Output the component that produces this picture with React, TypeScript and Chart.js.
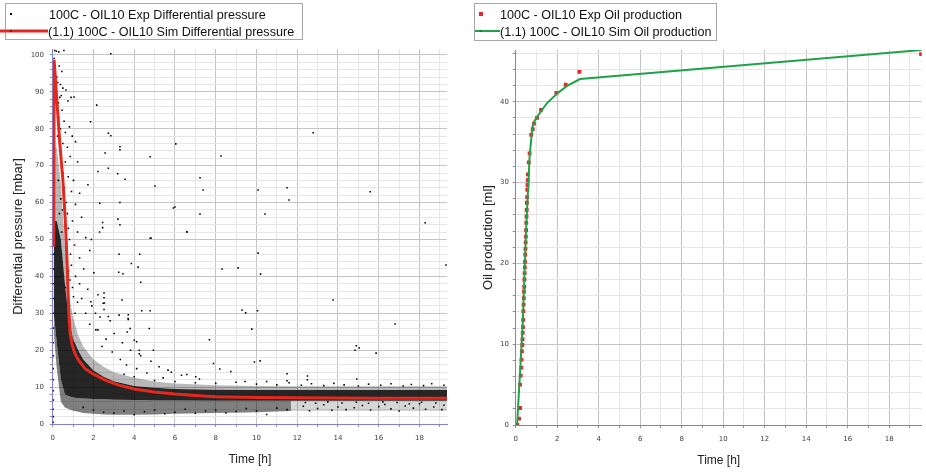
import React, { useEffect, useRef } from 'react';
import { Chart, registerables } from 'chart.js';

Chart.register(...registerables);

// ---------------- data ----------------
const EXP_DP_LABEL = '100C - OIL10 Exp Differential pressure';
const SIM_DP_LABEL = '(1.1) 100C - OIL10 Sim Differential pressure';
const EXP_OIL_LABEL = '100C - OIL10 Exp Oil production';
const SIM_OIL_LABEL = '(1.1) 100C - OIL10 Sim Oil production';

const X_TITLE = 'Time [h]';
const Y_TITLE_DP = 'Differential pressure [mbar]';
const Y_TITLE_OIL = 'Oil production [ml]';

const timeTickLabels = [0, 2, 4, 6, 8, 10, 12, 14, 16, 18];
const dpTickLabels = [0, 10, 20, 30, 40, 50, 60, 70, 80, 90, 100];
const oilTickLabels = [0, 10, 20, 30, 40];

// simulated differential pressure
const simDpTime = [0.05, 0.07, 0.2, 0.35, 0.5, 0.62, 0.72, 0.78, 0.85, 0.95, 1.1, 1.3, 1.6, 2.0, 2.6, 3.2, 4.0, 5.0, 6.0, 7.0, 8.0, 10.0, 12.0, 14.0, 16.0, 18.0, 19.35];
const simDpValue = [48, 98.6, 88, 76, 66, 55, 42, 31, 25, 21.5, 19, 17, 15, 13.5, 11.8, 10.6, 9.5, 8.7, 8.1, 7.7, 7.4, 7.2, 7.1, 7.05, 7.0, 7.0, 7.0];

// measured differential pressure (individual readable samples)
const expDpPoints: [number, number][] = [
  [0.02, 0.5], [0.03, 2], [0.02, 4], [0.03, 6.5], [0.02, 9], [0.03, 12], [0.02, 15], [0.03, 18.5], [0.02, 22], [0.03, 26],
  [0.02, 30], [0.03, 34], [0.02, 38], [0.03, 42], [0.04, 46], [0.05, 51], [0.04, 56], [0.06, 61], [0.05, 66], [0.04, 71],
  [0.06, 76], [0.05, 81], [0.04, 86], [0.06, 91], [0.05, 95], [0.07, 99], [0.1, 101.2],
  [0.18, 101], [0.3, 100.8], [0.55, 101.2], [0.12, 96], [0.2, 94], [0.32, 97], [0.38, 92], [0.16, 89], [0.42, 89], [0.28, 87],
  [0.5, 91], [0.65, 90.5], [0.9, 88.5], [1.05, 88.6], [0.75, 87.5], [0.46, 85], [0.3, 83], [0.56, 82], [0.38, 80], [0.62, 79],
  [0.82, 80.5], [0.96, 78], [0.5, 76], [0.72, 75], [1.12, 76.5], [0.42, 73], [0.62, 71], [0.86, 72.5], [1.22, 71], [0.52, 68],
  [0.76, 67], [1.02, 66], [0.57, 64], [0.92, 63], [1.32, 62.5], [0.66, 60], [1.12, 59.5], [0.72, 57], [0.97, 55], [1.42, 56],
  [0.77, 53], [1.22, 52], [0.82, 50], [1.07, 48.5], [1.62, 50.5], [0.87, 46], [1.32, 45], [1.82, 47], [0.92, 43], [1.52, 42],
  [1.12, 40], [2.02, 41], [1.32, 38], [1.72, 36.5], [0.97, 37], [2.22, 35], [1.42, 34], [1.92, 32], [2.52, 31], [1.22, 33],
  [1.62, 30], [2.32, 29], [2.82, 28], [1.82, 27], [2.12, 25.5], [3.02, 24.5], [2.62, 23], [3.42, 22], [2.42, 21], [3.82, 20],
  [2.92, 19.5], [4.32, 18.5], [3.32, 17.5], [4.82, 17], [3.62, 16], [5.22, 15.5], [4.12, 15], [5.82, 14], [4.62, 13.8],
  [6.32, 13.2], [7.02, 12.8], [5.42, 12.5],
  [0.25, 92.5], [0.35, 88.5], [0.45, 95.5], [0.24, 78], [0.34, 74], [0.44, 70], [0.28, 66], [0.4, 61], [0.33, 57], [0.48, 58],
  [0.58, 53.5], [0.44, 52], [0.66, 49], [0.7, 45.5], [0.78, 41.5], [0.85, 39], [0.62, 37], [0.74, 33], [1.02, 34.5], [1.1, 30],
  [2.85, 100.3], [2.16, 86.4], [1.86, 81.9], [2.73, 78.8], [2.85, 78.1], [3.3, 75.1], [3.3, 74.3], [2.57, 73.4], [4.78, 72.4],
  [6.04, 75.9], [2.73, 69.3], [3.19, 67.8], [3.55, 66.3], [5.02, 64.5], [5.92, 58.5], [3.3, 60], [3.2, 55.5], [3.3, 54],
  [2.45, 54.6], [2.45, 53.2], [6.58, 52.1], [4.78, 50.3], [2.3, 52], [1.9, 50], [2.22, 68.4], [1.73, 64.8], [2.31, 59.8],
  [3.26, 46], [4.27, 46], [3.86, 43.5], [3.24, 41.1], [3.45, 40.7], [4.32, 38.4], [2.52, 35.5], [2.52, 34.2], [2.54, 32.8],
  [2.73, 29.1], [3.7, 28.6], [3.8, 25.9], [4.0, 22.7], [2.1, 30], [4.19, 42.5], [3.4, 33.6], [3.26, 29.5], [2.22, 25.5],
  [1.87, 33.1], [2.48, 32.7], [3.71, 29.6], [3.71, 28.3], [4.37, 30.7], [4.78, 30.7], [3.66, 24.9], [4.74, 25.9],
  [4.12, 22.3], [4.25, 20], [4.25, 19], [4.94, 20], [7.69, 22.8], [7.89, 16.4], [8.2, 14.9], [8.74, 14.2], [6.58, 13.4],
  [7.2, 12.2], [5.66, 14.6], [9.44, 11.5], [11.5, 13.6], [11.5, 11.7], [12.5, 12], [12.5, 13], [14.92, 12.2],
  [7.23, 66.7], [7.38, 63.4], [8.26, 72.6], [6.0, 58.8], [6.59, 52], [4.83, 50.4], [7.23, 56.9], [8.31, 42], [9.1, 42.3],
  [10.08, 63.4], [10.42, 56.9], [10.08, 46.3], [10.2, 40.6], [11.5, 64], [11.6, 60.7], [12.78, 78.9], [9.29, 30.9],
  [9.47, 30.1], [10.05, 30.7], [9.77, 25.7], [10.18, 17.1], [9.9, 16.8], [13.76, 33.6], [14.84, 20], [14.9, 21.2],
  [15.04, 20.6], [15.87, 19.2], [16.8, 27.1], [15.58, 62.9], [18.28, 54.5], [19.3, 43.1],
  [1.5, 4.5], [2.0, 3.8], [2.5, 3.2], [3.0, 3.0], [3.5, 3.5], [4.0, 2.5], [4.5, 3.3], [5.0, 3.8], [5.5, 2.8], [6.0, 3.2],
  [6.5, 4.0], [7.0, 2.9], [7.5, 3.5], [8.0, 3.8], [8.5, 3.0], [9.0, 3.4], [9.5, 4.2], [10.0, 3.6], [10.5, 2.6], [11.0, 4.3],
  [11.5, 3.9], [12.3, 4.8], [12.6, 3.6], [13.0, 4.2], [13.3, 5.2], [13.7, 3.7], [14.0, 4.6], [14.4, 3.9], [14.8, 4.4],
  [15.2, 5.0], [15.6, 3.8], [16.0, 4.7], [16.3, 5.3], [16.6, 4.1], [17.0, 3.5], [17.3, 4.9], [17.7, 4.3], [18.0, 5.5],
  [18.3, 4.0], [18.7, 4.6], [19.1, 3.9], [19.2, 5.1],
  [12.4, 5.8], [12.9, 5.6], [13.5, 6.0], [14.2, 5.7], [14.9, 5.9], [15.5, 5.6], [16.2, 6.0], [16.9, 5.8], [17.5, 5.5],
  [18.1, 5.9], [18.8, 5.7],
  [3.5, 13.5], [4.0, 12.8], [5.0, 11.8], [6.0, 11.5], [7.0, 11.2], [8.0, 11.0], [9.0, 11.3], [10.0, 10.8], [10.5, 11.5],
  [11.0, 10.6], [11.6, 11.2], [12.2, 10.5], [12.7, 10.9], [13.3, 10.4], [13.8, 11.0], [14.3, 10.6], [15.0, 10.3],
  [15.5, 10.8], [16.1, 10.5], [16.6, 10.9], [17.2, 10.3], [17.6, 10.7], [18.2, 10.4], [18.6, 10.9], [19.2, 10.5],
];

// envelopes of the dense cloud of measured pressure samples
const cloudTime = [0.05, 0.2, 0.4, 0.6, 0.8, 1.0, 1.25, 1.5, 2.0, 2.5, 3.0, 4.0, 5.0, 6.0, 8.0, 10.0, 11.7, 12.0, 14.0, 16.0, 18.0, 19.35];
const cloudUpperTop = [75, 75, 65, 48, 35, 29, 24, 21, 17.5, 15.5, 14, 12.5, 11.5, 11, 10.5, 10.3, 10.2, 10.2, 10.2, 10.2, 10.2, 10.2];
const cloudCoreTop = [55, 55, 50, 38, 28, 23, 20, 17.5, 14.5, 12.8, 11.6, 10.3, 9.8, 9.5, 9.3, 9.2, 9.2, 9.2, 9.2, 9.2, 9.2, 9.2];
const cloudCoreBottom = [30, 22, 12, 8, 7.5, 7.2, 7, 6.9, 6.8, 6.7, 6.6, 6.5, 6.4, 6.4, 6.3, 6.3, 6.3, 6.3, 6.3, 6.3, 6.3, 6.3];
const lowerTime = [0.05, 0.2, 0.4, 0.6, 0.8, 1.0, 1.25, 1.5, 2.0, 2.5, 3.0, 4.0, 5.0, 6.0, 8.0, 10.0, 11.7];
const lowerTop = [30, 22, 12, 8, 7.5, 7.2, 7, 6.9, 6.8, 6.7, 6.6, 6.5, 6.4, 6.4, 6.3, 6.3, 6.3];
const lowerBottom = [25, 15, 6, 4.5, 4, 3.6, 3.3, 3.0, 2.8, 2.6, 2.5, 2.5, 2.6, 2.8, 3, 3.2, 3.5];
const streakTime = [11.7, 12.0, 14.0, 16.0, 18.0, 19.35];
const streakTop = [6.3, 6.3, 6.3, 6.3, 6.3, 6.3];
const streakBottom = [3.5, 3.5, 3.5, 3.5, 3.5, 3.5];

// oil production
const expOilTime = [0.08, 0.16, 0.21, 0.21, 0.24, 0.27, 0.28, 0.3, 0.32, 0.33, 0.34, 0.35, 0.36, 0.37, 0.38, 0.39, 0.4, 0.41,
  0.42, 0.43, 0.44, 0.45, 0.46, 0.47, 0.48, 0.49, 0.5, 0.51, 0.52, 0.53, 0.54, 0.55, 0.56, 0.57, 0.58, 0.59, 0.63, 0.67,
  0.75, 0.82, 0.88, 1.03, 1.22, 1.96, 2.41, 3.07, 19.54];
const expOilValue = [0, 0.8, 2.1, 5.0, 6.1, 7.1, 8.1, 9.1, 9.9, 10.6, 11.4, 12.1, 13.0, 14.1, 14.9, 15.7, 16.5, 17.1,
  18.0, 18.8, 19.5, 20.2, 21.1, 21.8, 22.6, 23.3, 24.1, 25.0, 25.8, 26.6, 27.5, 28.2, 29.1, 29.7, 30.3, 31.0, 32.5, 33.6,
  35.9, 36.6, 37.3, 38.0, 39.0, 41.1, 42.1, 43.7, 45.9];
const simOilTime = [0.07, 0.12, 0.2, 0.34, 0.5, 0.67, 0.8, 0.9, 1.05, 1.5, 2.04, 2.5, 3.1, 19.57];
const simOilValue = [0, 2.5, 6, 12.6, 24.1, 33.2, 36.8, 37.6, 38.2, 39.8, 41.1, 42.0, 42.8, 46.4];

// ---------------- styling ----------------
const H = 472;
const FAMILY = '"Liberation Sans", Arial, sans-serif';
const TICK_FAMILY = '"DejaVu Sans", Verdana, sans-serif';
const MAJOR_GRID = '#c4c4c4';
const MINOR_GRID = '#e6e6e6';
const AXIS_COLOR = '#7f80d2';
const TICK_COLOR = '#8a8ab8';
const RED = '#e3281e';
const GREEN = '#1fa34a';

const pairs = (xs: number[], ys: number[]) => xs.map((x, i) => ({ x, y: ys[i] }));

const boxLegend = {
  id: 'boxLegend',
  afterDraw(chart: any, _args: any, opts: any) {
    if (!opts || !opts.items) return;
    const ctx = chart.ctx as CanvasRenderingContext2D;
    ctx.save();
    const [bx, by, bw, bh] = opts.box;
    ctx.fillStyle = '#ffffff';
    ctx.fillRect(bx, by, bw, bh);
    ctx.strokeStyle = '#a6a6a6';
    ctx.lineWidth = 1;
    ctx.strokeRect(bx + 0.5, by + 0.5, bw, bh);
    for (const it of opts.items) {
      if (it.kind === 'line') {
        ctx.strokeStyle = it.color;
        ctx.lineWidth = it.lineWidth;
        ctx.beginPath();
        ctx.moveTo(it.x0, it.y);
        ctx.lineTo(it.x1, it.y);
        ctx.stroke();
        ctx.fillStyle = it.markerColor;
        ctx.fillRect(it.markerX - it.size / 2, it.y - it.size / 2, it.size, it.size);
      } else {
        ctx.fillStyle = it.color;
        ctx.fillRect(it.markerX - it.size / 2, it.y - it.size / 2, it.size, it.size);
      }
      ctx.fillStyle = '#111';
      ctx.font = `12.6px ${FAMILY}`;
      ctx.textBaseline = 'alphabetic';
      ctx.textAlign = 'left';
      ctx.fillText(it.text, it.textX, it.baseline);
    }
    ctx.restore();
  },
};

function linearAxis(o: {
  max: number; step: number; labels: number[]; fit: (s: any) => void; padding: number;
  title: string; titlePad: any; titleSize: number;
}) {
  return {
    type: 'linear',
    min: 0,
    max: o.max,
    afterFit: o.fit,
    ticks: {
      stepSize: o.step,
      autoSkip: false,
      includeBounds: false,
      maxRotation: 0,
      padding: o.padding,
      color: '#404040',
      font: { family: TICK_FAMILY, size: 7 },
      callback: (v: any) => (o.labels.includes(Number(v)) ? String(v) : ''),
    },
    grid: {
      color: (c: any) => (c.tick && o.labels.includes(c.tick.value) ? MAJOR_GRID : MINOR_GRID),
      lineWidth: 1,
      tickLength: 3,
      tickColor: TICK_COLOR,
    },
    border: { display: true, color: AXIS_COLOR, width: 1 },
    title: {
      display: true,
      text: o.title,
      color: '#222',
      font: { family: FAMILY, size: o.titleSize },
      padding: o.titlePad,
    },
  };
}

function band(label: string, xs: number[], ys: number[], fill: any, color: string, order: number) {
  return {
    type: 'line', label, data: pairs(xs, ys), borderColor: 'transparent', borderWidth: 1,
    pointRadius: 0, tension: 0, fill, backgroundColor: color, order,
  };
}

function pressureConfig(): any {
  return {
    type: 'scatter',
    data: {
      datasets: [
        {
          type: 'line', label: SIM_DP_LABEL, data: pairs(simDpTime, simDpValue), borderColor: RED,
          borderWidth: 3, pointRadius: 0, tension: 0, fill: false, order: 0,
        },
        {
          type: 'scatter', label: EXP_DP_LABEL, data: expDpPoints.map(([x, y]) => ({ x, y })),
          pointStyle: 'rect', pointRadius: 1.1, backgroundColor: '#000', borderWidth: 0, order: 1,
        },
        band('cloud core', cloudTime, cloudCoreTop, '+1', 'rgba(0,0,0,0.85)', 2),
        band('cloud core bottom', cloudTime, cloudCoreBottom, false, 'transparent', 2),
        band('cloud upper', cloudTime, cloudUpperTop, '+1', 'rgba(0,0,0,0.28)', 3),
        band('cloud upper bottom', cloudTime, cloudCoreTop, false, 'transparent', 3),
        band('cloud lower', lowerTime, lowerTop, '+1', 'rgba(0,0,0,0.5)', 4),
        band('cloud lower bottom', lowerTime, lowerBottom, false, 'transparent', 4),
        band('streaks', streakTime, streakTop, '+1', 'rgba(0,0,0,0.16)', 5),
        band('streaks bottom', streakTime, streakBottom, false, 'transparent', 5),
      ],
    },
    options: {
      responsive: false,
      animation: false,
      devicePixelRatio: 1,
      layout: { padding: { top: 49, right: 13, bottom: 0, left: 0 } },
      scales: {
        x: linearAxis({
          max: 19.35, step: 1, labels: timeTickLabels, fit: (s: any) => { s.height = 48; }, padding: 6.5,
          title: X_TITLE, titlePad: { top: 0, bottom: 4.8 }, titleSize: 12,
        }),
        y: linearAxis({
          max: 101.6, step: 2, labels: dpTickLabels, fit: (s: any) => { s.width = 52.7; }, padding: 5.7,
          title: Y_TITLE_DP, titlePad: { top: 10.5, bottom: 0 }, titleSize: 13,
        }),
      },
      plugins: {
        legend: { display: false },
        tooltip: { enabled: false },
        boxLegend: {
          box: [5, 3, 297, 36],
          items: [
            { kind: 'point', text: EXP_DP_LABEL, color: '#000', size: 2, markerX: 11, y: 14, textX: 49, baseline: 19 },
            { kind: 'line', text: SIM_DP_LABEL, color: RED, markerColor: '#7a1a14', size: 2, lineWidth: 3, x0: 0, x1: 48, markerX: 11, y: 31, textX: 48, baseline: 35.5 },
          ],
        },
      },
    },
    plugins: [boxLegend],
  };
}

function oilConfig(): any {
  return {
    type: 'scatter',
    data: {
      datasets: [
        {
          type: 'line', label: SIM_OIL_LABEL, data: pairs(simOilTime, simOilValue), borderColor: GREEN,
          borderWidth: 2, pointRadius: 0, tension: 0, fill: false, order: 0,
        },
        {
          type: 'scatter', label: EXP_OIL_LABEL, data: pairs(expOilTime, expOilValue),
          pointStyle: 'rect', pointRadius: 2.7, backgroundColor: '#e8262a', borderWidth: 0, order: 1,
        },
      ],
    },
    options: {
      responsive: false,
      animation: false,
      devicePixelRatio: 1,
      layout: { padding: { top: 50, right: 4.3, bottom: 0, left: 0 } },
      scales: {
        x: linearAxis({
          max: 19.57, step: 1, labels: timeTickLabels, fit: (s: any) => { s.height = 47; }, padding: 6.5,
          title: X_TITLE, titlePad: { top: 0, bottom: 3.8 }, titleSize: 12,
        }),
        y: linearAxis({
          max: 46.4, step: 2, labels: oilTickLabels, fit: (s: any) => { s.width = 55.7; }, padding: 3.7,
          title: Y_TITLE_OIL, titlePad: { top: 20.5, bottom: 0 }, titleSize: 13,
        }),
      },
      plugins: {
        legend: { display: false },
        tooltip: { enabled: false },
        boxLegend: {
          box: [14, 3, 242, 37],
          items: [
            { kind: 'point', text: EXP_OIL_LABEL, color: '#e8262a', size: 4, markerX: 21, y: 14, textX: 40, baseline: 19 },
            { kind: 'line', text: SIM_OIL_LABEL, color: GREEN, markerColor: '#0f7a33', size: 2, lineWidth: 2, x0: 15, x1: 40, markerX: 20.7, y: 31, textX: 40, baseline: 35.5 },
          ],
        },
      },
    },
    plugins: [boxLegend],
  };
}

function Panel({ left, width, build }: { left: number; width: number; build: () => any }) {
  const ref = useRef<HTMLCanvasElement>(null);
  useEffect(() => {
    const chart = new Chart(ref.current as HTMLCanvasElement, build());
    return () => chart.destroy();
  }, []);
  return (
    <canvas
      ref={ref}
      width={width}
      height={H}
      style={{ position: 'absolute', left, top: 0, width, height: H, display: 'block' }}
    />
  );
}

export default function App() {
  return (
    <div style={{ position: 'fixed', left: 0, top: 0, width: 926, height: H, background: '#fff', overflow: 'hidden' }}>
      <Panel left={0} width={460} build={pressureConfig} />
      <Panel left={460} width={466} build={oilConfig} />
    </div>
  );
}
